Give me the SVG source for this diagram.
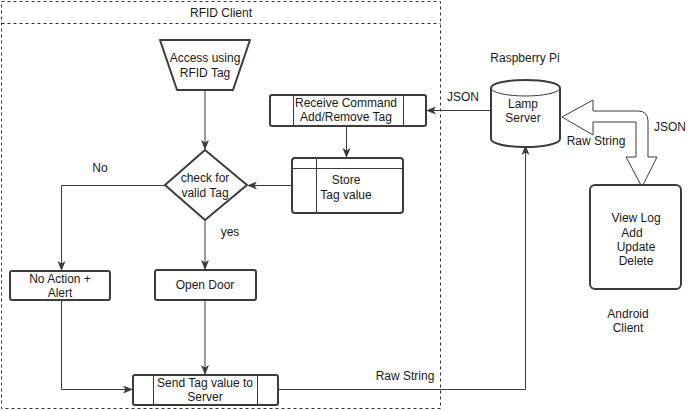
<svg xmlns="http://www.w3.org/2000/svg" width="691" height="411" viewBox="0 0 691 411">
<defs>
<style>
text{font-family:"Liberation Sans",Arial,sans-serif;font-size:12px;fill:#1a1a1a;text-anchor:middle}
.shape{fill:#fff;stroke:#3c3c3c;stroke-width:2;stroke-linejoin:round}
.thin{fill:none;stroke:#3c3c3c;stroke-width:1}
.conn{fill:none;stroke:#3c3c3c;stroke-width:1;marker-end:url(#arr)}
.dash{fill:none;stroke:#333;stroke-width:1;stroke-dasharray:3,3}
</style>
<marker id="arr" viewBox="0 0 10 8" refX="9" refY="4" markerWidth="10" markerHeight="8" markerUnits="userSpaceOnUse" orient="auto">
<path d="M0,0 L10,4 L0,8 L2.5,4 Z" fill="#3c3c3c"/>
</marker>
</defs>
<g id="container">
<rect class="dash" x="1.5" y="1.5" width="439" height="407"/>
<line class="dash" x1="1.5" y1="23.5" x2="440.5" y2="23.5"/>
<text x="221" y="17">RFID Client</text>
</g>
<g id="connectors">
<path class="conn" d="M205,91 V149"/>
<path class="conn" d="M205,220 V269"/>
<path class="conn" d="M205,300 V374"/>
<path class="conn" d="M165,185.5 H61.5 V270"/>
<path class="conn" d="M61.5,300 V389.5 H132"/>
<path class="conn" d="M278,389.5 H525.5 V146"/>
<path class="conn" d="M491,110.5 H427"/>
<path class="conn" d="M346.5,126 V157"/>
<path class="conn" d="M292,185.5 H248"/>
<path d="M562,117 L593,100 L593,111 L638,111 Q648,111 648,121 L648,157 L657,157 L642,187 L626,157 L636,157 L636,122 L593,122 L593,135 Z" fill="#fff" stroke="#3c3c3c" stroke-width="1" stroke-linejoin="miter"/>
<text x="463" y="101">JSON</text>
<text x="670" y="131">JSON</text>
<text x="596" y="145">Raw String</text>
<text x="405" y="380">Raw String</text>
<text x="230" y="236">yes</text>
<text x="100" y="172">No</text>
</g>
<g id="access">
<path class="shape" d="M160,40 L250,40 L233,90 L177,90 Z"/>
<text x="205" y="62">Access using</text>
<text x="205" y="77">RFID Tag</text>
</g>
<g id="check">
<path class="shape" d="M205,150 L247,185 L205,220 L165,185 Z"/>
<text x="205" y="182">check for</text>
<text x="205" y="197">valid Tag</text>
</g>
<g id="noaction">
<rect class="shape" x="10" y="271" width="100" height="29" rx="2"/>
<text x="60" y="283">No Action +</text>
<text x="60" y="297">Alert</text>
</g>
<g id="opendoor">
<rect class="shape" x="155" y="270" width="101" height="30" rx="2"/>
<text x="205" y="289">Open Door</text>
</g>
<g id="sendtag">
<rect class="shape" x="133" y="375" width="145" height="30" rx="2"/>
<line class="thin" x1="153.5" y1="375" x2="153.5" y2="405"/>
<line class="thin" x1="257.5" y1="375" x2="257.5" y2="405"/>
<text x="205" y="387">Send Tag value to</text>
<text x="205" y="401">Server</text>
</g>
<g id="receive">
<rect class="shape" x="270" y="95" width="156" height="31" rx="2"/>
<line class="thin" x1="293.5" y1="95" x2="293.5" y2="126"/>
<line class="thin" x1="403.5" y1="95" x2="403.5" y2="126"/>
<text x="346" y="107">Receive Command</text>
<text x="346" y="121">Add/Remove Tag</text>
</g>
<g id="store">
<rect class="shape" x="292" y="158" width="111" height="55" rx="3"/>
<line class="thin" x1="316.5" y1="158" x2="316.5" y2="213"/>
<line class="thin" x1="292" y1="168.5" x2="403" y2="168.5"/>
<text x="346" y="184">Store</text>
<text x="346" y="199">Tag value</text>
</g>
<g id="lamp">
<path class="shape" d="M491,88 A34.5,8 0 0 1 560,88 V139 A34.5,8 0 0 1 491,139 Z"/>
<path class="thin" d="M491,88 A34.5,8 0 0 0 560,88" stroke-width="2"/>
<text x="523" y="108">Lamp</text>
<text x="523" y="122">Server</text>
<text x="525" y="62">Raspberry Pi</text>
</g>
<g id="android">
<rect class="shape" x="590" y="185" width="91" height="104" rx="5"/>
<text x="636" y="222">View Log</text>
<text x="632" y="237">Add</text>
<text x="636" y="251">Update</text>
<text x="636" y="265">Delete</text>
<text x="628" y="318">Android</text>
<text x="628" y="332">Client</text>
</g>
</svg>
